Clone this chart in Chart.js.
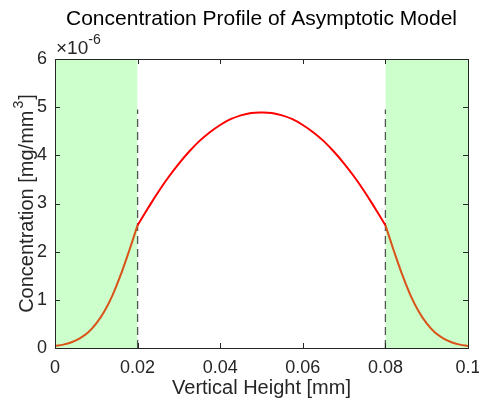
<!DOCTYPE html>
<html>
<head>
<meta charset="utf-8">
<script src="https://cdn.jsdelivr.net/npm/chart.js@4"></script>
<style>
  html, body { margin: 0; padding: 0; background: #fff; }
  #wrap { width: 479px; height: 405px; }
</style>
</head>
<body>
<div id="wrap"><canvas id="graph"></canvas></div>
<script>
// values in units of 1e-6 mg/mm^3
const edgeX = [0, 0.002, 0.004, 0.006, 0.008, 0.010, 0.012, 0.014, 0.016, 0.018, 0.020];
const edgeY = [0.04, 0.07, 0.12, 0.20, 0.32, 0.51, 0.77, 1.11, 1.54, 2.03, 2.55];
const midX = [0.02, 0.0225, 0.025, 0.0275, 0.03, 0.0325, 0.035, 0.0375, 0.04, 0.0425, 0.045, 0.0475, 0.05,
              0.0525, 0.055, 0.0575, 0.06, 0.0625, 0.065, 0.0675, 0.07, 0.0725, 0.075, 0.0775, 0.08];
const midY = [2.55, 2.90, 3.24, 3.55, 3.83, 4.08, 4.30, 4.48, 4.63, 4.75, 4.83, 4.88, 4.89,
              4.88, 4.83, 4.75, 4.63, 4.48, 4.30, 4.08, 3.83, 3.55, 3.24, 2.90, 2.55];
const rightX = [0.080, 0.082, 0.084, 0.086, 0.088, 0.090, 0.092, 0.094, 0.096, 0.098, 0.100];
const rightY = [2.55, 2.03, 1.54, 1.11, 0.77, 0.51, 0.32, 0.20, 0.12, 0.07, 0.04];
const zones = [[0, 0.02], [0.08, 0.1]];
const boundaries = [0.02, 0.08];
const dashTop = 4.95;
const xTicks = [0, 0.02, 0.04, 0.06, 0.08, 0.1];
const xLabels = ['0', '0.02', '0.04', '0.06', '0.08', '0.1'];
const yTicks = [0, 1, 2, 3, 4, 5, 6];
const yLabels = ['0', '1', '2', '3', '4', '5', '6'];

const axisColor = '#262626';
const font = '"Liberation Sans", Arial, Helvetica, sans-serif';

const pts = (xs, ys) => xs.map((x, i) => ({ x: x, y: ys[i] }));

const datasets = [];
zones.forEach(z => datasets.push({
  data: [{ x: z[0], y: 6 }, { x: z[1], y: 6 }],
  fill: 'origin', backgroundColor: '#ccffcc', borderWidth: 0, pointRadius: 0, order: 5
}));
boundaries.forEach(b => datasets.push({
  data: [{ x: b, y: 0 }, { x: b, y: dashTop }],
  borderColor: '#555555', borderWidth: 1.3, borderDash: [8, 5], pointRadius: 0, fill: false, order: 3
}));
datasets.push({ data: pts(midX, midY), borderColor: '#ff0000', borderWidth: 2, pointRadius: 0, fill: false, tension: 0.4, order: 1 });
datasets.push({ data: pts(edgeX, edgeY), borderColor: '#d95319', borderWidth: 2, pointRadius: 0, fill: false, tension: 0.4, order: 1 });
datasets.push({ data: pts(rightX, rightY), borderColor: '#d95319', borderWidth: 2, pointRadius: 0, fill: false, tension: 0.4, order: 1 });

const frame = {
  id: 'frame',
  afterDraw(chart) {
    const c = chart.ctx, a = chart.chartArea;
    const xs = chart.scales.x, ys = chart.scales.y;
    c.save();
    c.strokeStyle = axisColor;
    c.lineWidth = 1;
    c.strokeRect(a.left + 0.5, a.top + 0.5, a.right - a.left, a.bottom - a.top);
    c.beginPath();
    xTicks.forEach(v => {
      const px = Math.round(xs.getPixelForValue(v)) + 0.5;
      c.moveTo(px, a.bottom); c.lineTo(px, a.bottom - 5);
      c.moveTo(px, a.top); c.lineTo(px, a.top + 5);
    });
    yTicks.forEach(v => {
      const py = Math.round(ys.getPixelForValue(v)) + 0.5;
      c.moveTo(a.left, py); c.lineTo(a.left + 5, py);
      c.moveTo(a.right, py); c.lineTo(a.right - 5, py);
    });
    c.stroke();

    // tick labels
    c.fillStyle = axisColor;
    c.textBaseline = 'middle';
    c.font = '18px ' + font;
    c.textAlign = 'center';
    xTicks.forEach((v, i) => c.fillText(xLabels[i], xs.getPixelForValue(v), a.bottom + 20));
    c.textAlign = 'right';
    yTicks.forEach((v, i) => c.fillText(yLabels[i], a.left - 8, ys.getPixelForValue(v)));

    c.fillStyle = '#000';
    c.textAlign = 'center';
    c.font = '21px ' + font;
    c.fillText('Concentration Profile of Asymptotic Model', (a.left + a.right) / 2, 19);

    c.fillStyle = axisColor;
    c.font = '20px ' + font;
    c.fillText('Vertical Height [mm]', (a.left + a.right) / 2, 388);

    // exponent
    c.textAlign = 'left';
    c.font = '19px ' + font;
    c.fillText('\u00d710', a.left + 1, 49);
    const w = c.measureText('\u00d710').width;
    c.font = '14px ' + font;
    c.fillText('-6', a.left + 1 + w, 40);

    // y title
    c.translate(27, (a.top + a.bottom) / 2);
    c.rotate(-Math.PI / 2);
    c.font = '20px ' + font;
    const s1 = 'Concentration [mg/mm', s3 = ']';
    const w1 = c.measureText(s1).width, w3 = c.measureText(s3).width;
    c.font = '14px ' + font;
    const w2 = c.measureText('3').width;
    let x0 = -(w1 + w2 + w3 + 3) / 2;
    c.font = '20px ' + font;
    c.fillText(s1, x0, 0);
    c.font = '14px ' + font;
    c.fillText('3', x0 + w1 + 2, -8);
    c.font = '20px ' + font;
    c.fillText(s3, x0 + w1 + w2 + 3, 0);
    c.restore();
  }
};

new Chart(document.getElementById('graph'), {
  type: 'line',
  data: { datasets: datasets },
  options: {
    responsive: true,
    maintainAspectRatio: false,
    animation: false,
    layout: { padding: { left: 0, right: 11, top: 59, bottom: 0 } },
    plugins: { legend: { display: false }, tooltip: { enabled: false } },
    scales: {
      x: {
        type: 'linear', min: 0, max: 0.1,
        afterFit: s => { s.height = 57; },
        grid: { display: false },
        border: { display: false },
        ticks: { display: false }
      },
      y: {
        type: 'linear', min: 0, max: 6,
        afterFit: s => { s.width = 55; },
        grid: { display: false },
        border: { display: false },
        ticks: { display: false }
      }
    }
  },
  plugins: [frame]
});
</script>
</body>
</html>
